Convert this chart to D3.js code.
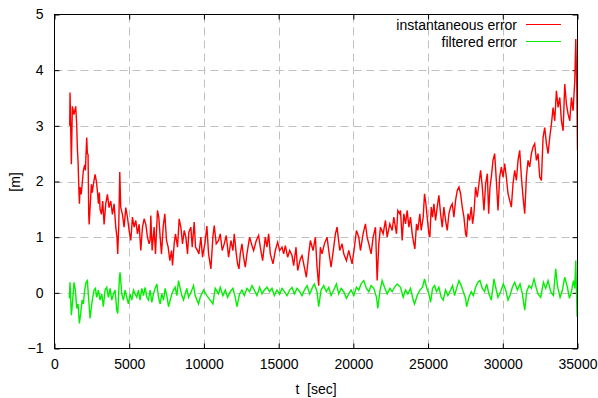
<!DOCTYPE html>
<html>
<head>
<meta charset="utf-8">
<script src="https://cdn.jsdelivr.net/npm/d3@7"></script>
<style>
  body { margin: 0; background: #fff; }
  svg text { font-family: "Liberation Sans", Arial, sans-serif; fill: #000; }
</style>
</head>
<body>
<svg id="svg"></svg>
<script>
// x ticks, y ticks
const xTicks = [0, 5000, 10000, 15000, 20000, 25000, 30000, 35000];
const yTicks = [-1, 0, 1, 2, 3, 4, 5];
const seriesNames = ["instantaneous error", "filtered error"];

// [t (sec), error (m)]
const instantError = [
  [1017,3.0],[1040,3.6],[1084,2.97],[1128,2.31],[1195,3.35],[1300,3.2],[1420,3.35],[1486,3.03],[1530,2.6],[1575,2.37],
  [1642,1.77],[1670,1.6],[1710,1.9],[1790,1.77],[1866,2.0],[1933,2.2],[2022,2.3],[2067,2.2],[2156,2.79],[2200,2.5],
  [2246,2.49],[2290,1.41],[2320,1.23],[2380,1.53],[2470,1.95],[2530,1.8],[2600,1.95],[2715,2.13],[2804,2.0],[2871,1.83],
  [2938,1.6],[3000,1.8],[3050,1.5],[3140,1.41],[3228,1.65],[3318,1.23],[3430,1.6],[3541,1.77],[3653,1.53],[3765,1.65],
  [3876,1.41],[3988,1.6],[4100,1.18],[4180,1.0],[4230,0.70],[4300,1.2],[4368,2.17],[4435,1.53],[4547,1.41],[4658,1.18],
  [4770,1.53],[4882,1.36],[4993,1.12],[5105,0.94],[5217,1.36],[5329,1.18],[5440,1.3],[5552,1.06],[5663,1.23],[5775,0.76],
  [5887,1.18],[5999,1.33],[6110,1.23],[6222,1.0],[6334,0.88],[6400,0.95],[6445,1.39],[6534,0.76],[6668,1.18],[6757,0.70],
  [6891,1.48],[6981,1.36],[7070,1.0],[7160,0.70],[7271,1.18],[7383,1.42],[7495,0.94],[7606,0.82],[7718,0.58],[7830,0.76],
  [7897,0.49],[8008,0.88],[8098,1.06],[8232,0.82],[8344,1.33],[8455,1.18],[8567,0.88],[8679,1.12],[8790,1.0],[8902,0.70],
  [8991,1.09],[9125,1.18],[9215,0.82],[9349,1.27],[9438,0.82],[9572,0.76],[9662,0.70],[9796,1.0],[9907,0.64],[9974,0.76],
  [10064,0.88],[10198,1.2],[10310,0.70],[10466,0.43],[10600,1.0],[10689,1.21],[10823,0.88],[10980,0.94],[11091,1.06],[11225,0.76],
  [11359,0.88],[11494,1.03],[11650,0.64],[11806,0.94],[11940,0.76],[12030,1.06],[12164,0.70],[12253,0.52],[12343,0.43],[12432,0.70],
  [12544,0.88],[12655,0.64],[12767,0.46],[12879,0.70],[13057,1.0],[13214,0.85],[13325,0.76],[13504,0.94],[13660,1.03],[13772,0.82],
  [13929,0.58],[14107,1.0],[14219,0.82],[14331,1.06],[14443,0.70],[14621,0.52],[14778,0.76],[14934,0.91],[15068,0.76],[15224,0.82],
  [15336,0.70],[15448,0.85],[15604,0.64],[15738,0.76],[15895,0.67],[16006,0.49],[16163,0.82],[16274,0.40],[16453,0.61],[16565,0.67],
  [16721,0.46],[16855,0.28],[17012,0.70],[17124,0.94],[17302,0.76],[17458,1.0],[17570,0.46],[17681,0.13],[17793,0.82],[17905,0.70],
  [18062,0.88],[18240,1.0],[18352,0.76],[18508,0.46],[18687,0.82],[18799,1.06],[18911,1.18],[19090,0.76],[19246,0.88],[19358,0.70],
  [19536,0.58],[19693,0.76],[19804,0.64],[19916,0.52],[20072,0.82],[20206,1.12],[20363,1.0],[20474,0.76],[20653,1.06],[20809,1.24],
  [20921,1.0],[21033,0.88],[21189,0.70],[21323,1.0],[21480,1.18],[21592,0.22],[21703,0.88],[21815,1.18],[21993,1.06],[22149,1.30],
  [22261,1.0],[22440,1.24],[22596,1.12],[22708,1.36],[22887,1.06],[22976,1.48],[23110,1.42],[23155,1.48],[23267,0.94],[23378,1.42],
  [23490,1.24],[23602,1.48],[23714,1.18],[23825,1.36],[23937,1.06],[24048,0.88],[24116,0.79],[24227,1.24],[24316,1.12],[24451,1.42],
  [24540,1.12],[24674,1.36],[24763,1.78],[24853,1.60],[24942,1.36],[25054,1.06],[25121,1.0],[25210,1.54],[25300,1.36],[25389,1.60],
  [25501,1.30],[25612,1.54],[25724,1.75],[25836,1.42],[25947,1.18],[26059,1.54],[26171,1.30],[26283,1.12],[26394,1.42],[26506,1.54],
  [26618,1.60],[26729,1.36],[26841,1.66],[26953,1.84],[27065,1.90],[27176,1.78],[27288,1.54],[27400,1.36],[27511,1.06],[27578,1.0],
  [27668,1.42],[27779,1.30],[27891,1.54],[27980,1.24],[28070,1.42],[28181,1.90],[28293,1.72],[28405,1.96],[28516,2.20],[28628,1.90],
  [28740,1.48],[28852,1.96],[28965,2.14],[29054,1.42],[29143,1.90],[29233,2.08],[29345,2.38],[29456,2.50],[29568,2.02],[29680,1.48],
  [29791,2.08],[29903,2.26],[30015,2.08],[30126,2.32],[30238,2.08],[30350,1.78],[30462,1.66],[30573,1.54],[30685,1.96],[30797,2.20],
  [30908,2.02],[31020,2.38],[31132,2.56],[31244,2.08],[31355,1.72],[31467,1.42],[31579,2.08],[31690,2.38],[31802,2.26],[31914,2.50],
  [32025,2.62],[32137,2.68],[32249,2.38],[32360,2.50],[32472,2.08],[32584,2.02],[32696,2.79],[32807,2.97],[32919,2.68],[33031,2.50],
  [33142,2.79],[33254,3.03],[33366,3.33],[33477,3.09],[33589,3.63],[33701,3.33],[33813,3.51],[33924,3.09],[34036,2.91],[34148,3.75],
  [34259,3.39],[34371,3.21],[34483,3.09],[34594,3.51],[34706,3.27],[34818,3.81],[34885,4.56],[34952,3.69],[35000,2.56]
];

const filteredError = [
  [994,-0.10],[1038,0.19],[1128,-0.40],[1217,-0.13],[1306,0.19],[1396,0.05],[1485,-0.28],[1575,-0.20],[1664,-0.55],[1753,-0.37],
  [1843,-0.13],[1932,-0.20],[2021,0.05],[2111,0.19],[2200,0.22],[2290,-0.13],[2379,-0.46],[2468,-0.25],[2557,-0.08],[2647,0.05],
  [2736,0.08],[2826,-0.08],[2937,0.05],[3049,-0.13],[3161,-0.02],[3272,-0.25],[3384,0.05],[3496,0.10],[3608,-0.08],[3719,0.08],
  [3831,-0.13],[3943,-0.02],[4054,0.05],[4166,-0.31],[4233,-0.37],[4345,0.28],[4389,0.37],[4501,-0.02],[4613,-0.13],[4724,0.05],
  [4836,-0.08],[4948,-0.20],[5060,-0.02],[5171,-0.13],[5283,0.05],[5394,-0.02],[5506,-0.08],[5618,0.05],[5730,-0.13],[5841,0.08],
  [5953,-0.05],[6065,0.10],[6176,-0.08],[6288,-0.13],[6400,0.05],[6512,-0.17],[6623,-0.02],[6735,0.08],[6847,0.16],[6959,-0.08],
  [7070,-0.20],[7182,-0.02],[7294,-0.13],[7405,0.08],[7517,-0.05],[7629,-0.25],[7741,-0.13],[7852,-0.02],[7964,0.05],[8075,0.10],
  [8187,-0.05],[8299,0.22],[8411,0.08],[8522,-0.05],[8634,-0.13],[8746,-0.02],[8858,0.08],[8969,-0.08],[9081,-0.02],[9192,0.05],
  [9304,0.13],[9416,-0.05],[9528,-0.13],[9639,-0.20],[9751,-0.08],[9974,0.05],[10198,-0.05],[10421,-0.13],[10600,-0.20],[10756,0.08],
  [10980,-0.02],[11091,0.10],[11270,-0.05],[11427,0.05],[11583,-0.08],[11762,0.02],[11940,0.08],[12097,-0.08],[12208,-0.25],[12387,-0.02],
  [12544,0.05],[12700,-0.05],[12879,0.08],[13057,0.02],[13214,0.13],[13370,0.05],[13549,-0.05],[13728,0.10],[13884,-0.02],[14040,0.05],
  [14219,0.10],[14398,0.02],[14554,0.08],[14711,-0.05],[14889,0.05],[15068,-0.02],[15224,0.08],[15381,0.02],[15559,-0.05],[15738,0.05],
  [15895,0.10],[16051,-0.02],[16229,0.08],[16408,0.02],[16565,-0.05],[16721,0.05],[16900,0.13],[17079,-0.02],[17235,0.08],[17391,0.16],
  [17570,0.02],[17681,-0.25],[17838,0.05],[18017,0.13],[18195,0.02],[18352,0.10],[18508,-0.05],[18687,0.05],[18866,0.16],[19023,-0.02],
  [19179,0.08],[19358,0.02],[19536,-0.10],[19693,-0.02],[19849,0.05],[20028,-0.05],[20206,0.10],[20363,0.05],[20519,0.16],[20698,0.22],
  [20876,0.08],[21033,0.02],[21189,0.13],[21368,0.08],[21547,-0.08],[21636,-0.28],[21770,0.02],[21926,0.22],[22082,0.10],[22261,-0.02],
  [22440,0.08],[22596,0.02],[22753,0.10],[22931,0.16],[23155,0.10],[23334,-0.08],[23490,0.05],[23646,-0.02],[23825,0.08],[24004,-0.13],
  [24093,-0.20],[24272,-0.05],[24451,0.05],[24629,0.10],[24763,0.25],[24898,0.10],[25054,-0.02],[25166,-0.17],[25300,0.08],[25434,0.13],
  [25568,0.02],[25724,0.10],[25880,-0.08],[26014,-0.13],[26171,0.05],[26327,-0.05],[26506,0.05],[26640,0.13],[26774,-0.05],[26908,0.08],
  [27065,0.22],[27221,0.13],[27355,0.02],[27511,-0.10],[27578,-0.25],[27735,-0.08],[27891,0.02],[28025,-0.05],[28181,0.10],[28338,0.19],
  [28472,0.22],[28628,0.08],[28785,0.02],[28919,0.16],[29075,-0.02],[29232,-0.13],[29411,0.25],[29522,0.10],[29679,-0.08],[29858,0.02],
  [30036,0.16],[30193,0.05],[30350,-0.13],[30483,-0.05],[30640,0.10],[30796,0.19],[30975,0.05],[31153,0.16],[31309,-0.02],[31466,-0.31],
  [31600,0.02],[31756,0.13],[31912,0.08],[32091,0.25],[32225,0.10],[32359,-0.02],[32538,-0.08],[32717,0.19],[32873,0.08],[33029,0.22],
  [33208,0.02],[33387,-0.05],[33543,0.43],[33655,0.13],[33834,-0.08],[33990,0.05],[34146,0.28],[34325,0.10],[34459,-0.10],[34593,0.02],
  [34727,0.22],[34817,0.08],[34884,0.58],[34929,0.05],[34973,-0.43]
];

const width = 598;
const height = 398;
const mLeft = 54.5, mRight = 577.5, mTop = 14.5, mBottom = 348.5;

const svg = d3.select("#svg")
  .attr("width", width)
  .attr("height", height)
  .attr("viewBox", [0, 0, width, height])
  .attr("font-size", 14);

const xScale = d3.scaleLinear([0, 35000], [mLeft, mRight]);
const yScale = d3.scaleLinear([-1, 5], [mBottom, mTop]);

svg.append("defs").append("clipPath").attr("id", "plotclip")
  .append("rect")
  .attr("x", mLeft).attr("y", mTop)
  .attr("width", mRight - mLeft).attr("height", mBottom - mTop);

// grid
const grid = svg.append("g")
  .attr("stroke", "#c0c0c0")
  .attr("stroke-width", 1)
  .attr("stroke-dasharray", "8,5");

grid.selectAll("line.gx")
  .data(xTicks.slice(1, -1))
  .join("line")
  .attr("x1", d => Math.round(xScale(d)) + 0.5)
  .attr("x2", d => Math.round(xScale(d)) + 0.5)
  .attr("y1", mTop).attr("y2", mBottom);

grid.selectAll("line.gy")
  .data(yTicks.slice(1, -1))
  .join("line")
  .attr("x1", mLeft).attr("x2", mRight)
  .attr("y1", d => Math.round(yScale(d)) + 0.5)
  .attr("y2", d => Math.round(yScale(d)) + 0.5);

// axes (gnuplot style: inward ticks, mirrored)
const tick = 5;
svg.append("g")
  .attr("transform", "translate(0," + mBottom + ")")
  .call(d3.axisBottom(xScale).tickValues(xTicks).tickSize(-tick).tickPadding(11).tickFormat(d3.format("d")))
  .call(g => g.select(".domain").remove())
  .call(g => g.selectAll("text").attr("font-size", 14).attr("font-family", "Liberation Sans, Arial, sans-serif"));

svg.append("g")
  .attr("transform", "translate(0," + mTop + ")")
  .call(d3.axisTop(xScale).tickValues(xTicks).tickSize(-tick).tickFormat(""))
  .call(g => g.select(".domain").remove());

svg.append("g")
  .attr("transform", "translate(" + mLeft + ",0)")
  .call(d3.axisLeft(yScale).tickValues(yTicks).tickSize(-tick).tickPadding(11).tickFormat(d3.format("d")))
  .call(g => g.select(".domain").remove())
  .call(g => g.selectAll("text").attr("font-size", 14).attr("font-family", "Liberation Sans, Arial, sans-serif"));

svg.append("g")
  .attr("transform", "translate(" + mRight + ",0)")
  .call(d3.axisRight(yScale).tickValues(yTicks).tickSize(-tick).tickFormat(""))
  .call(g => g.select(".domain").remove());

// data lines
const line = d3.line()
  .x(d => xScale(d[0]))
  .y(d => yScale(d[1]));

const plot = svg.append("g").attr("clip-path", "url(#plotclip)");

plot.append("path")
  .datum(instantError)
  .attr("fill", "none")
  .attr("stroke", "#ff0000")
  .attr("stroke-width", 1.4)
  .attr("d", line);

plot.append("path")
  .datum(filteredError)
  .attr("fill", "none")
  .attr("stroke", "#00f000")
  .attr("stroke-width", 1.4)
  .attr("d", line);

// frame
svg.append("rect")
  .attr("x", mLeft).attr("y", mTop)
  .attr("width", mRight - mLeft).attr("height", mBottom - mTop)
  .attr("fill", "none")
  .attr("stroke", "#000")
  .attr("stroke-width", 1);

// legend
const legendColors = ["#ff0000", "#00f000"];
const legend = svg.append("g");
seriesNames.forEach((name, i) => {
  const y = 25 + i * 17;
  legend.append("text")
    .attr("x", 517).attr("y", y)
    .attr("dy", "0.35em")
    .attr("text-anchor", "end")
    .text(name);
  legend.append("line")
    .attr("x1", 526).attr("x2", 561)
    .attr("y1", y - 0.5).attr("y2", y - 0.5)
    .attr("stroke", legendColors[i])
    .attr("stroke-width", 1.2);
});

// axis titles
svg.append("text")
  .attr("x", 316).attr("y", 389)
  .attr("dy", "0.35em")
  .attr("text-anchor", "middle")
  .style("white-space", "pre")
  .text("t  [sec]");

svg.append("text")
  .attr("transform", "translate(15,182)rotate(-90)")
  .attr("dy", "0.35em")
  .attr("text-anchor", "middle")
  .text("[m]");
</script>
</body>
</html>
